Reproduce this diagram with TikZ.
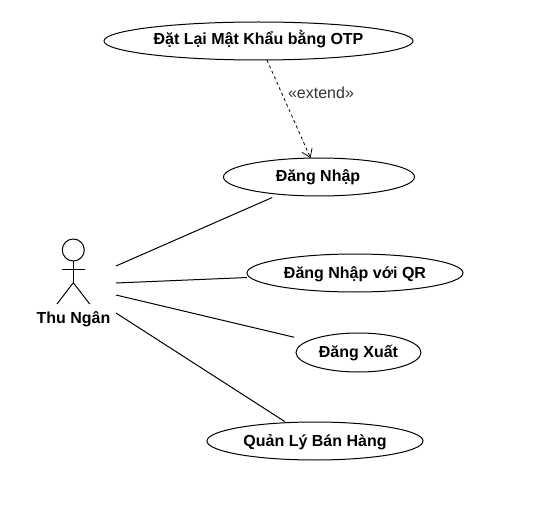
\documentclass[tikz,border=0pt]{standalone}
\usepackage{fontspec}
\setmainfont{Liberation Sans}
\usetikzlibrary{shapes.geometric,arrows.meta}
\tikzset{
  usecase/.style={draw=black,line width=1pt,ellipse,inner sep=0pt,outer sep=0pt,text height=13pt,text depth=3pt,font=\bfseries\fontsize{16}{18}\selectfont,text=black},
  assoc/.style={draw=black,line width=1pt},
  extendline/.style={draw=black,line width=0.8pt,dash pattern=on 3pt off 3pt,-{Straight Barb[length=8pt,width=11pt,line width=0.8pt]}},
  stick/.style={draw=black,line width=1pt},
  actorlabel/.style={inner sep=0pt,anchor=base,font=\bfseries\fontsize{16}{18}\selectfont,text=black},
  stereotype/.style={inner sep=0pt,anchor=base,font=\fontsize{16}{18}\selectfont,text=black!80}
}
\begin{document}
\begin{tikzpicture}[x=1pt,y=-1pt]
\useasboundingbox (0,0) rectangle (560,508);
\node[usecase,text height=12pt,text depth=4pt,minimum width=309pt,minimum height=38pt] (otp) at (258.5,41) {Đặt Lại Mật Khẩu bằng OTP};
\node[usecase,minimum width=191pt,minimum height=38pt] (login) at (319,177) {\hspace{-2pt}Đăng Nhập};
\node[usecase,minimum width=216pt,minimum height=38pt] (qr) at (355,273) {Đăng Nhập với QR};
\node[usecase,minimum width=125pt,minimum height=39pt] (logout) at (358.5,352.5) {Đăng Xuất};
\node[usecase,minimum width=216pt,minimum height=38pt] (sales) at (315,441) {Quản Lý Bán Hàng};
% actor
\node[stick,circle,minimum size=22pt,inner sep=0pt,outer sep=0pt] (head) at (73.3,250) {};
\coordinate (armL) at (62,269);
\coordinate (armR) at (85,269);
\coordinate (hip) at (73.3,282.7);
\coordinate (legL) at (57,304);
\coordinate (legR) at (89.7,304);
\draw[stick] (head.south) -- (hip);
\draw[stick] (armL) -- (armR);
\draw[stick] (legL) -- (hip) -- (legR);
\node[actorlabel] (cashier) at (73.5,323.3) {Thu Ngân};
% connector ends by the actor
\coordinate (a1) at (116,266);
\coordinate (a2) at (116,283);
\coordinate (a3) at (116,295);
\coordinate (a4) at (116,313);
\draw[assoc,shorten >=8pt] (a1) -- (login);
\draw[assoc,shorten >=3pt] (a2) -- (qr);
\draw[assoc,shorten >=15pt] (a3) -- (logout);
\draw[assoc,shorten >=2pt] (a4) -- (sales);
\draw[extendline] (otp) -- (login);
\node[stereotype] (ext) at (321,98.5) {«extend»};
\end{tikzpicture}
\end{document}
